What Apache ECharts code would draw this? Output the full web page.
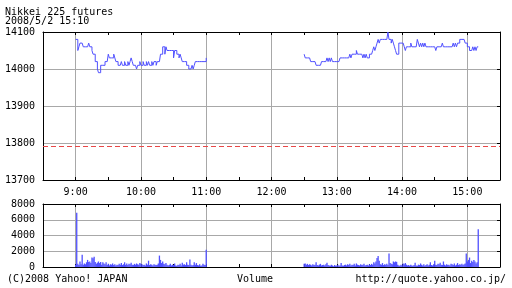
<!DOCTYPE html>
<html>
<head>
<meta charset="utf-8">
<script src="https://cdn.jsdelivr.net/npm/echarts@6/dist/echarts.min.js"></script>
<style>html,body{margin:0;padding:0;background:#fff}#c{width:512px;height:288px}</style>
</head>
<body>
<div id="c"></div>
<script>
// minutes are counted from 8:30 (x = 0) to 15:30 (x = 420)
const amStart = 30;   // 9:00
const pmStart = 240;  // 12:30
const tickLabels = ['9:00','10:00','11:00','12:00','13:00','14:00','15:00'];
const prevClose = 13790;

const priceAM = [
14080,14080,14050,14060,14070,14070,14070,14060,14060,14060,
14060,14060,14070,14060,14060,14050,14040,14040,14020,14020,
14000,13990,13990,14010,14010,14010,14010,14020,14020,14020,
14040,14030,14030,14030,14030,14040,14030,14020,14020,14010,
14010,14010,14020,14010,14010,14020,14010,14010,14020,14010,
14020,14030,14020,14010,14010,14010,14000,14010,14010,14020,
14010,14010,14020,14010,14010,14020,14010,14020,14010,14010,
14020,14010,14020,14020,14010,14020,14020,14020,14040,14040,
14060,14060,14040,14060,14050,14050,14050,14050,14050,14050,
14030,14050,14050,14040,14040,14030,14040,14030,14020,14020,
14020,14020,14010,14010,14000,14000,14000,14010,14000,14010,
14020,14020,14020,14020,14020,14020,14020,14020,14020,14020,
14030];

const pricePM = [
14040,
14030,14030,14030,14030,14030,
14020,14020,14020,14020,14020,
14010,14010,14010,14010,14010,
14020,14020,14020,14020,14020,
14030,14020,14030,14020,14030,14020,
14020,14020,14020,14020,14020,14020,
14030,14030,14030,14030,14030,14030,14030,14030,14030,
14040,14030,14040,14040,14040,14040,
14050,
14040,14040,14040,14040,14040,
14030,14040,14030,14040,14030,14030,
14040,14040,14040,
14050,14060,14050,14060,14070,14080,14070,
14080,14080,14080,14080,14080,14080,14080,
14100,
14080,14080,
14070,14080,14070,14060,14050,14040,14040,
14070,14070,14070,14070,14070,
14060,14050,14060,14060,14060,14060,
14070,14060,14060,14060,14060,14060,
14080,14070,14060,14070,14060,14070,14060,14070,
14060,14060,14060,14060,14060,14060,14060,14060,14060,
14050,
14060,14060,14060,14060,14060,
14070,
14060,14060,14060,14060,14060,14060,14060,14060,14060,
14070,14060,14070,14060,14070,14070,
14080,14080,14080,14080,14080,
14070,14070,
14060,14060,
14050,14050,14050,
14060,14050,14060,14050,14060,14060];

const volAM = [
300,6900,400,250,700,350,1550,300,450,350,
600,900,650,700,500,1200,1100,1300,650,400,
550,700,500,650,300,600,450,350,600,250,
400,200,350,300,450,250,350,200,300,250,
400,300,500,250,350,600,300,450,250,400,
350,550,300,250,400,300,450,350,300,500,
400,350,250,300,200,450,300,800,250,350,
300,200,350,300,250,300,450,1450,900,500,
700,400,350,500,300,200,250,400,200,300,
250,450,200,150,300,250,400,200,550,300,
350,250,600,300,250,950,300,200,250,600,
300,500,250,200,350,150,200,400,300,250,
2200];

const volPM = [
400,450,300,400,250,350,300,200,350,250,
300,600,250,200,300,400,200,250,300,200,
350,550,250,200,150,300,200,100,250,150,
200,300,150,200,500,200,150,250,300,200,
350,250,400,200,300,250,400,200,450,300,
250,200,350,250,300,400,200,250,300,200,
350,250,400,300,600,450,700,1150,1400,800,
350,300,500,250,350,300,400,250,1700,500,
400,350,700,600,700,650,300,200,150,300,
200,450,350,500,300,200,250,150,300,200,
150,250,550,200,150,300,250,450,300,200,
350,150,250,350,200,300,600,250,200,350,
800,300,250,400,350,550,300,250,700,300,
200,350,250,300,200,400,350,250,450,200,
300,500,250,350,300,400,250,350,450,1700,
700,900,1200,500,800,650,900,700,450,600,
4800];

const BLUE = '#5050ff';
const GRAY = '#a8a8a8';
const FONT = 'DejaVu Sans Mono';

const amLine = priceAM.map((v, i) => [amStart + i, v]);
const pmLine = pricePM.map((v, i) => [pmStart + i, v]);
const volData = volAM.map((v, i) => [amStart + i, v]).concat(volPM.map((v, i) => [pmStart + i, v]));

function xAx(gridIndex, position, labels) {
  return {
    type: 'value', gridIndex, position, min: 0, max: 420, interval: 30,
    axisLine: { show: true, onZero: false, lineStyle: { color: '#000', width: 1 } },
    axisTick: { show: true, inside: true, length: 3, lineStyle: { color: '#000' } },
    axisLabel: {
      show: labels, margin: 7, fontFamily: FONT, fontSize: 10, color: '#000',
      formatter: v => ((v - 30) % 60 === 0 && v > 0 && v < 420) ? tickLabels[(v - 30) / 60] : ''
    },
    splitLine: { show: position === 'bottom', lineStyle: { color: ['rgba(0,0,0,0)', GRAY], width: 1 } }
  };
}
function yAx(gridIndex, position, min, max, interval, labels) {
  return {
    type: 'value', gridIndex, position, min, max, interval,
    axisLine: { show: true, onZero: false, lineStyle: { color: '#000', width: 1 } },
    axisTick: { show: position === 'right', inside: true, length: 3, lineStyle: { color: '#000' } },
    axisLabel: { show: labels, margin: 8, fontFamily: FONT, fontSize: 10, color: '#000', formatter: v => String(v) },
    splitLine: { show: position === 'left', showMinLine: false, showMaxLine: false, lineStyle: { color: GRAY, width: 1 } }
  };
}

const chart = echarts.init(document.getElementById('c'), null, { renderer: 'canvas' });
chart.setOption({
  animation: false,
  backgroundColor: '#fff',
  grid: [
    { left: 43, top: 32, width: 457, height: 148, show: false, containLabel: false, outerBoundsMode: 'none' },
    { left: 43, top: 204, width: 457, height: 63, show: false, containLabel: false, outerBoundsMode: 'none' }
  ],
  xAxis: [xAx(0, 'bottom', true), xAx(0, 'top', false), xAx(1, 'bottom', false), xAx(1, 'top', false)],
  yAxis: [
    yAx(0, 'left', 13700, 14100, 100, true), yAx(0, 'right', 13700, 14100, 100, false),
    yAx(1, 'left', 0, 8000, 2000, true), yAx(1, 'right', 0, 8000, 2000, false)
  ],
  graphic: [
    { type: 'text', left: 5, top: 7, style: { text: 'Nikkei 225 futures\n2008/5/2 15:10', font: '10px ' + FONT, fill: '#000', lineHeight: 9 } },
    { type: 'text', left: 7, top: 274, style: { text: '(C)2008 Yahoo! JAPAN', font: '10px ' + FONT, fill: '#000' } },
    { type: 'text', left: 237, top: 274, style: { text: 'Volume', font: '10px ' + FONT, fill: '#000' } },
    { type: 'text', right: 6, top: 274, style: { text: 'http://quote.yahoo.co.jp/', font: '10px ' + FONT, fill: '#000' } }
  ],
  series: [
    {
      type: 'line', xAxisIndex: 0, yAxisIndex: 0, data: amLine, step: 'end', showSymbol: false,
      lineStyle: { color: BLUE, width: 1 }, z: 3,
      markLine: {
        silent: true, symbol: 'none', label: { show: false },
        lineStyle: { color: '#e84848', type: [5, 3], width: 1 },
        data: [{ yAxis: prevClose }]
      }
    },
    {
      type: 'line', xAxisIndex: 0, yAxisIndex: 0, data: pmLine, step: 'end', showSymbol: false,
      lineStyle: { color: BLUE, width: 1 }, z: 3
    },
    {
      type: 'bar', xAxisIndex: 2, yAxisIndex: 2, data: volData, barWidth: 1.3,
      itemStyle: { color: BLUE }, z: 3
    }
  ]
});
</script>
</body>
</html>
